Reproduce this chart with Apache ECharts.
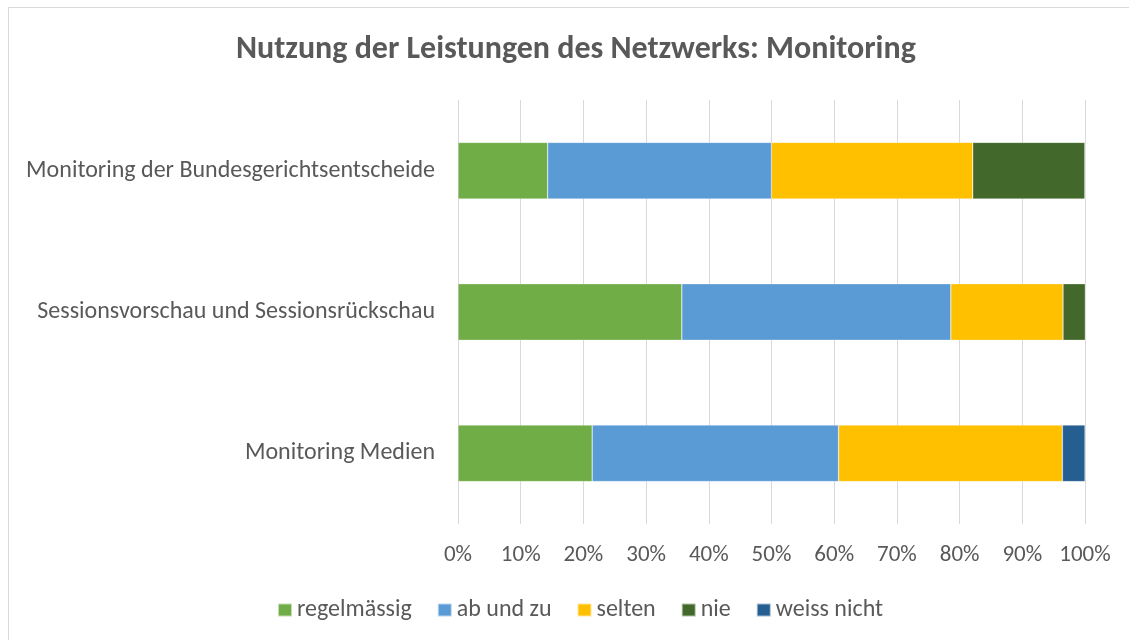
<!DOCTYPE html>
<html>
<head>
<meta charset="utf-8">
<script src="https://cdn.jsdelivr.net/npm/echarts@6/dist/echarts.min.js"></script>
<style>
    html, body { margin: 0; padding: 0; background: #fff; overflow: hidden; }
    .frame {
        position: absolute;
        left: 8px;
        top: 7px;
        width: 1200px;
        height: 700px;
        border: 1px solid #d9d9d9;
    }
    #chart { position: absolute; left: 0; top: 0; width: 1129px; height: 640px; }
</style>
</head>
<body>
<div class="frame"></div>
<div id="chart"></div>
<script>
    // bottom-to-top order for the category axis
    var categories = ['Monitoring Medien', 'Sessionsvorschau und Sessionsrückschau', 'Monitoring der Bundesgerichtsentscheide'];
    var seriesNames = ['regelmässig', 'ab und zu', 'selten', 'nie', 'weiss nicht'];
    var regelmaessig = [21.4, 35.7, 14.3];
    var abUndZu = [39.3, 42.9, 35.7];
    var selten = [35.7, 17.9, 32.1];
    var nie = [0, 3.6, 17.9];
    var weissNicht = [3.6, 0, 0];
    var colors = ['#70ad47', '#5b9bd5', '#ffc000', '#43682b', '#255e91'];

    var font = 'Carlito, "Open Sans", "Noto Sans", sans-serif';
    var values = [regelmaessig, abUndZu, selten, nie, weissNicht];

    var chart = echarts.init(document.getElementById('chart'));
    chart.setOption({
        animation: false,
        color: colors,
        title: {
            text: 'Nutzung der Leistungen des Netzwerks: Monitoring',
            left: 231,
            top: 29,
            textStyle: { fontFamily: font, fontSize: 32, fontWeight: 'bold', color: '#595959' }
        },
        legend: {
            bottom: 13,
            left: 272,
            itemWidth: 14,
            itemHeight: 13,
            itemGap: 25,
            icon: 'rect',
            textStyle: { fontFamily: font, fontSize: 24, color: '#595959' },
            data: seriesNames
        },
        grid: { left: 458, right: 44, top: 100, bottom: 116 },
        xAxis: {
            type: 'value',
            min: 0,
            max: 100,
            interval: 10,
            axisLine: { show: false },
            axisTick: { show: false },
            axisLabel: { formatter: '{value}%', margin: 20, fontFamily: font, fontSize: 23, color: '#595959' },
            splitLine: { lineStyle: { color: '#d9d9d9', width: 1 } }
        },
        yAxis: {
            type: 'category',
            data: categories,
            axisLine: { show: false },
            axisTick: { show: false },
            axisLabel: { margin: 23, fontFamily: font, fontSize: 24, color: '#595959' }
        },
        series: seriesNames.map(function (name, i) {
            return {
                name: name,
                type: 'bar',
                stack: 'total',
                barWidth: '40%',
                itemStyle: { borderColor: 'rgba(255,255,255,0.6)', borderWidth: 0.5 },
                data: values[i]
            };
        })
    });
</script>
</body>
</html>
